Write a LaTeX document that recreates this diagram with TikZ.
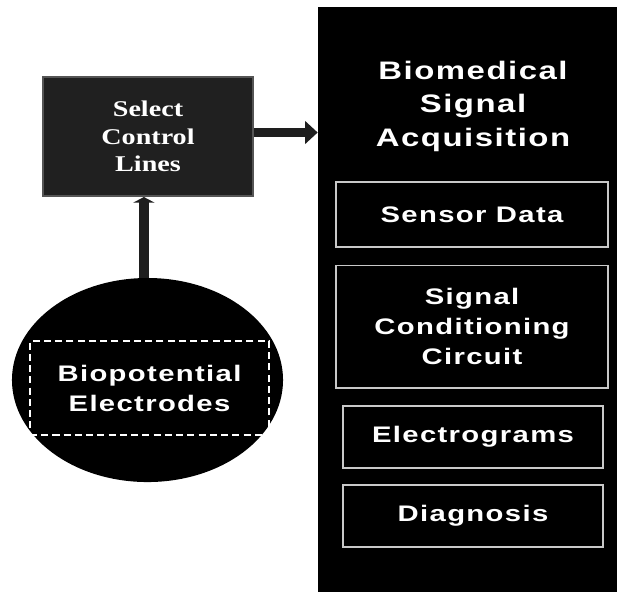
\documentclass[tikz,border=0pt]{standalone}
\usepackage{fontspec}
\setmainfont{Liberation Serif}[FakeStretch=1.25]
\setsansfont{Liberation Sans}[FakeStretch=1.3,LetterSpace=6]
\usepackage{xcolor}
\usetikzlibrary{shapes.geometric}
\usetikzlibrary{arrows.meta}

\definecolor{arrowgray}{HTML}{1E1E1E}
\definecolor{boxgray}{HTML}{202020}
\definecolor{rimgray}{HTML}{555555}
\definecolor{linegray}{HTML}{C8C8C8}

\begin{document}
\begin{tikzpicture}[x=0.025cm,y=-0.025cm]
			
			\tikzstyle{stage} = [draw=linegray,line width=1.4pt,fill=black,text=white,inner sep=0pt,font={\sffamily\bfseries\fontsize{16}{21.3}\selectfont},align=center]
			\tikzstyle{wide} = [stage,minimum width=6.8cm]
			\tikzstyle{narrow} = [stage,minimum width=6.5cm,minimum height=1.55cm]
			\tikzstyle{thickarrow} = [draw=arrowgray,line width=7pt]
			
			\useasboundingbox (0,0) rectangle (617,595);
			
			% right panel
			\node[fill=black,minimum width=7.475cm,minimum height=14.625cm,inner sep=0pt] (panel) at (467.5,299.5) {};
			\node[text=white,align=center,font={\sffamily\bfseries\fontsize{18}{23.8}\selectfont}] (title) at (473,106) {Biomedical\\Signal\\Acquisition};
			
			\node[wide,minimum height=1.625cm] (sensor) at (472,214.5) {Sensor Data};
			\node[wide,minimum height=3.05cm] (cond) at (472,326.5) {Signal\\Conditioning\\Circuit};
			\node[narrow] (egram) at (473,437) {Electrograms};
			\node[narrow] (diag) at (473,516) {Diagnosis};
			
			% left side
			\node[draw=rimgray,line width=1.4pt,fill=boxgray,text=white,minimum width=5.25cm,minimum height=2.975cm,align=center,font={\rmfamily\bfseries\fontsize{16}{19.6}\selectfont}] (sel) at (148,136.5) {Select\\Control\\Lines};
			
			\node[ellipse,fill=black,minimum width=6.775cm,minimum height=5.1cm,inner sep=0pt] (electrodes) at (147.5,380) {};
			\node[draw=white,dashed,dash pattern=on 5pt off 3pt,line width=1.2pt,text=white,minimum width=5.975cm,minimum height=2.35cm,inner sep=0pt,align=center,font={\sffamily\bfseries\fontsize{16}{21.3}\selectfont}] (bio) at (149.5,388) {Biopotential\\Electrodes};
			
			\draw[thickarrow,-{Triangle[length=4pt,width=15pt]}] ([xshift=-0.09cm]electrodes.north) -- ([xshift=-0.09cm]electrodes.north |- sel.south);
			\draw[thickarrow,-{Triangle[length=9pt,width=16pt]}] ([yshift=0.1cm]sel.east) -- ([yshift=0.1cm]sel.east -| panel.west);
		\end{tikzpicture}
\end{document}
